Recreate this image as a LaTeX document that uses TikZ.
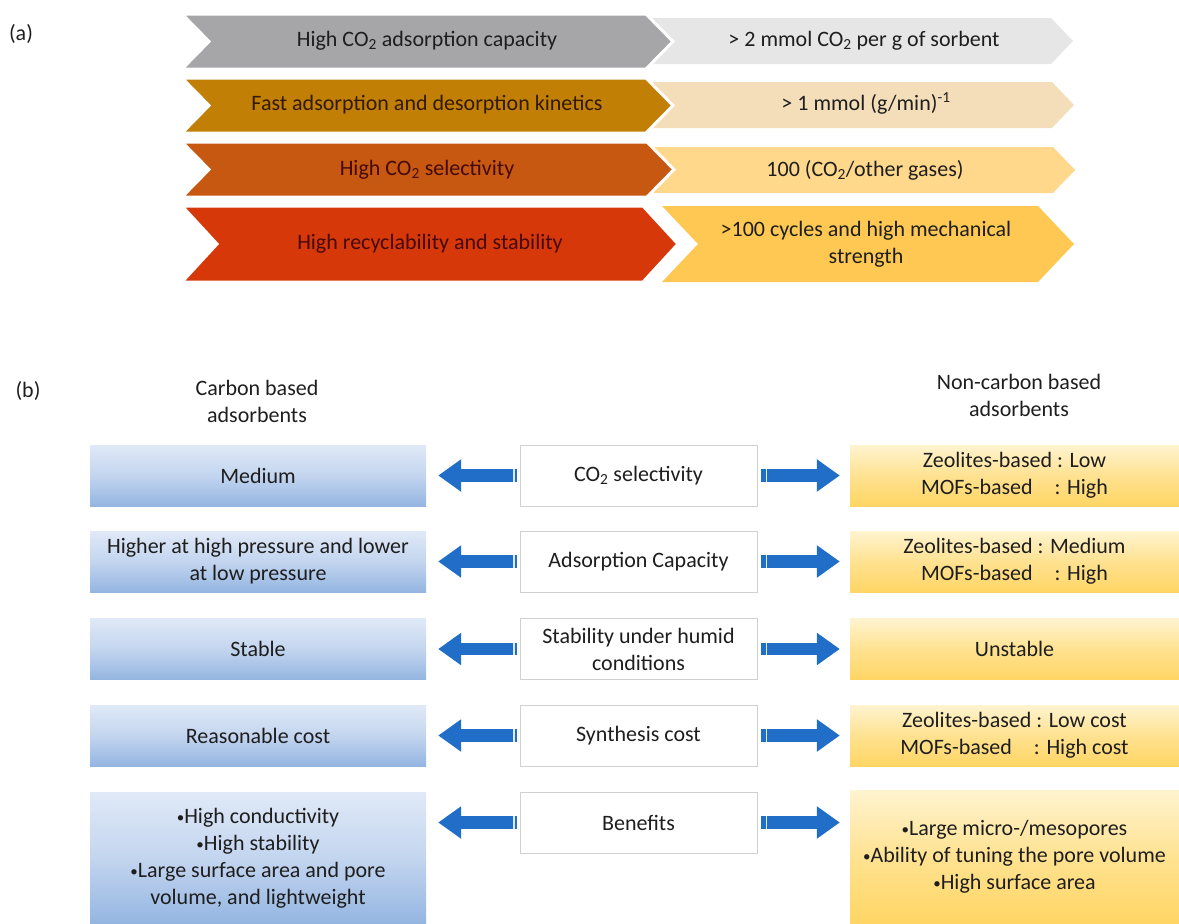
\documentclass[tikz,border=0pt]{standalone}
\usepackage{fontspec}
\setmainfont{Carlito}
\usetikzlibrary{arrows.meta}
\definecolor{gA}{RGB}{166,166,168}
\definecolor{oA}{RGB}{194,127,6}
\definecolor{rA}{RGB}{198,88,18}
\definecolor{dA}{RGB}{214,56,10}
\definecolor{gB}{RGB}{231,230,230}
\definecolor{oB}{RGB}{244,222,186}
\definecolor{rB}{RGB}{255,216,140}
\definecolor{dB}{RGB}{255,200,82}
\definecolor{arrowblue}{RGB}{33,110,200}
\definecolor{txt}{RGB}{30,30,30}
\definecolor{brownT}{RGB}{50,26,4}
\definecolor{maroonT}{RGB}{70,10,10}
\definecolor{bTop}{RGB}{224,233,247}
\definecolor{bMid}{RGB}{195,213,239}
\definecolor{bBot}{RGB}{148,181,225}
\definecolor{yTop}{RGB}{255,244,208}
\definecolor{yMid}{RGB}{255,226,145}
\definecolor{yBot}{RGB}{255,213,100}
\newcommand\chevpath[6]{\filldraw[#6] (#1,#3) -- ({#2-#5},#3) -- (#2,{(#3+#4)/2}) -- ({#2-#5},#4) -- (#1,#4) -- ({#1+#5},{(#3+#4)/2}) -- cycle;}
\newcommand\bul{{\raisebox{0.1ex}{\fontsize{15}{15}\selectfont•}}}
\tikzset{
  leftchev/.style={draw=white, line width=3pt, line join=miter},
  rightchev/.style={draw=none},
  bluebox/.style={minimum width=336pt, minimum height=61pt, inner sep=0pt, align=center,
     top color=bTop, bottom color=bBot, middle color=bMid, draw=none},
  midbox/.style={minimum width=237pt, minimum height=61pt, inner sep=0pt, align=center,
     fill=white, draw=black!18, line width=0.6pt},
  yellowbox/.style={minimum width=329pt, minimum height=61pt, inner sep=0pt, align=center,
     top color=yTop, bottom color=yBot, middle color=yMid, draw=none},
  bluearr/.style={draw=arrowblue, line width=12.5pt, -{Triangle[length=23pt,width=31pt]}},
  stripe/.style={draw=white, line width=1.6pt, opacity=0.85},
  chevtext/.style={align=center, inner sep=0pt},
}
\begin{document}
\begin{tikzpicture}[x=1pt, y=-1pt, font=\fontsize{22}{27}\selectfont, every node/.style={text=txt}]
\useasboundingbox (0,0) rectangle (1179,924);
% ---------- (a) ----------
\node (la) at (21,34) {(a)};
% right chevrons
\chevpath{648}{1073}{18}{64}{22}{fill=gB, rightchev}
\chevpath{648}{1074}{82}{128}{22}{fill=oB, rightchev}
\chevpath{648}{1075}{147}{193}{22}{fill=rB, rightchev}
\chevpath{662}{1074}{206}{282}{36}{fill=dB, rightchev}
% left chevrons
\chevpath{182}{673}{14}{69}{27}{fill=gA, leftchev}
\chevpath{182}{673}{78}{133}{27}{fill=oA, leftchev}
\chevpath{182}{674}{142}{197}{27}{fill=rA, leftchev}
\chevpath{182}{678}{206}{282}{35}{fill=dA, leftchev}
% texts
\node[chevtext] (l1) at (427,41) {High CO\textsubscript{2} adsorption capacity};
\node[chevtext, text=brownT] (l2) at (427,105) {Fast adsorption and desorption kinetics};
\node[chevtext, text=maroonT] (l3) at (427,169.5) {High CO\textsubscript{2} selectivity};
\node[chevtext, text=maroonT] (l4) at (430,244) {High recyclability and stability};
\node[chevtext] (r1) at (864,41) {> 2 mmol CO\textsubscript{2} per g of sorbent};
\node[chevtext] (r2) at (866,103.5) {> 1 mmol (g/min)\textsuperscript{-1}};
\node[chevtext] (r3) at (865,170) {100 (CO\textsubscript{2}/other gases)};
\node[chevtext] (r4) at (866,244) {>100 cycles and high mechanical\\strength};
% ---------- (b) ----------
\node (lb) at (28,391) {(b)};
\node[align=center] (hc) at (257,401) {Carbon based\\adsorbents};
\node[align=center] (hn) at (1019,395) {Non-carbon based\\adsorbents};
% blue boxes
\node[bluebox] (b1) at (258,475.5) {Medium};
\node[bluebox] (b2) at (258,561.5) {Higher at high pressure and lower\\at low pressure};
\node[bluebox] (b3) at (258,649) {Stable};
\node[bluebox] (b4) at (258,735.5) {Reasonable cost};
\node[bluebox, minimum height=132pt] (b5) at (258,858) {\bul High conductivity\\\bul High stability\\\bul Large surface area and pore\\volume, and lightweight};
% middle boxes
\node[midbox] (m1) at (638.5,475.5) {CO\textsubscript{2} selectivity};
\node[midbox] (m2) at (638.5,561.5) {Adsorption Capacity};
\node[midbox] (m3) at (638.5,649) {Stability under humid\\conditions};
\node[midbox] (m4) at (638.5,735.5) {Synthesis cost};
\node[midbox] (m5) at (638.5,822.5) {Benefits};
% yellow boxes
\node[yellowbox] (y1) at (1014.5,475.5) {Zeolites-based : Low\\MOFs-based\hspace{1em}: High};
\node[yellowbox] (y2) at (1014.5,561.5) {Zeolites-based : Medium\\MOFs-based\hspace{1em}: High};
\node[yellowbox] (y3) at (1014.5,649) {Unstable};
\node[yellowbox] (y4) at (1014.5,735.5) {Zeolites-based : Low cost\\MOFs-based\hspace{1em}: High cost};
\node[yellowbox, minimum height=134pt] (y5) at (1014.5,857) {\bul Large micro-/mesopores\\\bul Ability of tuning the pore volume\\\bul High surface area};
% arrows
\foreach \i in {1,...,5}{
  \draw[bluearr, shorten <=3pt, shorten >=12pt] (m\i.west) -- (m\i.west -| b\i.east);
  \draw[bluearr, shorten <=4pt, shorten >=10pt] (m\i.east) -- (m\i.east -| y\i.west);
  \draw[stripe] ([xshift=-6pt]m\i.west) ++(0,-6.5) -- ++(0,13);
  \draw[stripe] ([xshift=9pt]m\i.east) ++(0,-6.5) -- ++(0,13);
}
\end{tikzpicture}
\end{document}
